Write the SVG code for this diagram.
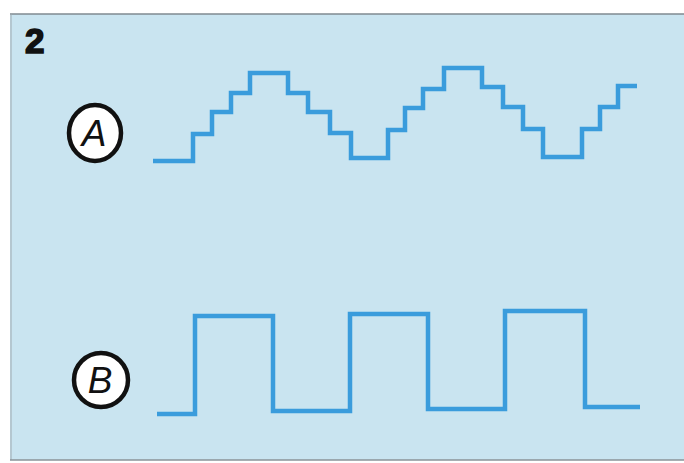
<svg xmlns="http://www.w3.org/2000/svg" width="684" height="463" viewBox="0 0 684 463">
<style>
.wave{fill:none;stroke:#3a9cdc;stroke-width:4.5;stroke-linejoin:miter;stroke-linecap:butt}
.badge{fill:#ffffff;stroke:#111111;stroke-width:4.5}
.lbl{font-family:"Liberation Sans",Arial,sans-serif;font-style:italic;font-size:37px;fill:#111111;text-anchor:middle}
.num{font-family:"Liberation Sans",Arial,sans-serif;font-weight:bold;font-size:35px;fill:#111111;stroke:#111111;stroke-width:1.6}
</style>
<rect x="0" y="0" width="684" height="463" fill="#ffffff"/>
<rect x="10" y="14" width="674" height="446" fill="#c9e4f0"/>
<line x1="10" y1="14" x2="684" y2="14" stroke="#7f8a90" stroke-width="1.5"/>
<line x1="11" y1="14" x2="11" y2="460" stroke="#a0aab0" stroke-width="1"/>
<line x1="10" y1="460" x2="684" y2="460" stroke="#8a9398" stroke-width="1.5"/>
<text class="num" x="25" y="53">2</text>
<g id="labelA">
<ellipse class="badge" cx="95" cy="133" rx="26" ry="28"/>
<text class="lbl" x="94" y="146">A</text>
</g>
<g id="labelB">
<ellipse class="badge" cx="101" cy="380" rx="27" ry="27"/>
<text class="lbl" x="100" y="393">B</text>
</g>
<g id="connectors">
<path id="waveA" class="wave" d="M153,161 H193 V134 H212 V112 H231 V93 H250 V73 H288 V93 H308 V112 H330 V133 H351 V158 H388 V130 H405 V108 H423 V89 H444 V68 H482 V87 H503 V107 H523 V129 H543 V157 H582 V129 H600 V107 H618 V86 H637"/>
<path id="waveB" class="wave" d="M157,414 H195 V316 H273 V411 H350 V314 H428 V409 H505 V311 H585 V407 H640"/>
</g>
</svg>
